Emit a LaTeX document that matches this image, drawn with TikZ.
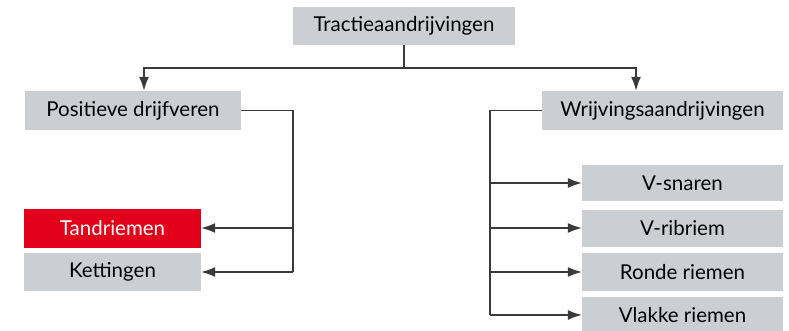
\documentclass[tikz,border=0pt]{standalone}
\usepackage{fontspec}
\setmainfont{Lato}
\usetikzlibrary{arrows.meta}
\definecolor{boxgray}{HTML}{CBCFD3}
\definecolor{boxred}{HTML}{E2001A}
\definecolor{linegray}{HTML}{3A3A3A}
\begin{document}
\begin{tikzpicture}[x=1pt,y=-1pt,
  box/.style={fill=boxgray,inner sep=0pt,anchor=center,text=black,font=\fontsize{20.5}{24}\selectfont},
  redbox/.style={box,fill=boxred,text=white},
  line/.style={draw=linegray,line width=1.3pt},
  arr/.style={line,-{Latex[length=14pt,width=10pt]}}]
\useasboundingbox (0,0) rectangle (789,331);
\node[box,minimum width=222pt,minimum height=38pt] (T) at (404,26) {Tractieaandrijvingen};
\node[box,minimum width=216pt,minimum height=39pt] (P) at (133,110.5) {Positieve drijfveren};
\node[box,minimum width=241pt,minimum height=39pt] (W) at (662.5,110.5) {Wrijvingsaandrijvingen};
\node[redbox,minimum width=177pt,minimum height=39pt] (Td) at (112.5,228) {Tandriemen};
\node[box,minimum width=177pt,minimum height=38pt] (K) at (112.5,272) {Kettingen};
\node[box,minimum width=201pt,minimum height=36pt] (VS) at (682.5,183) {V-snaren};
\node[box,minimum width=201pt,minimum height=37pt] (VR) at (682.5,228) {V-ribriem};
\node[box,minimum width=201pt,minimum height=38pt] (RR) at (682.5,272) {Ronde riemen};
\node[box,minimum width=201pt,minimum height=36pt] (VL) at (682.5,315) {Vlakke riemen};
\coordinate (j) at (404,68);
\coordinate (la) at (144,68);
\coordinate (ra) at (636,68);
\coordinate (lx) at (293,0);
\coordinate (rx) at (490,0);
\draw[line] (T.south) -- (j);
\draw[arr] (j) -- (la) -- (la |- P.north);
\draw[arr] (j) -- (ra) -- (ra |- W.north);
\draw[line] (P.east) -| (lx |- K.east);
\draw[arr] (lx |- Td.east) -- (Td.east);
\draw[arr] (lx |- K.east) -- (K.east);
\draw[line] (W.west) -| (rx |- VL.west);
\draw[arr] (rx |- VS.west) -- (VS.west);
\draw[arr] (rx |- VR.west) -- (VR.west);
\draw[arr] (rx |- RR.west) -- (RR.west);
\draw[arr] (rx |- VL.west) -- (VL.west);
\end{tikzpicture}
\end{document}
